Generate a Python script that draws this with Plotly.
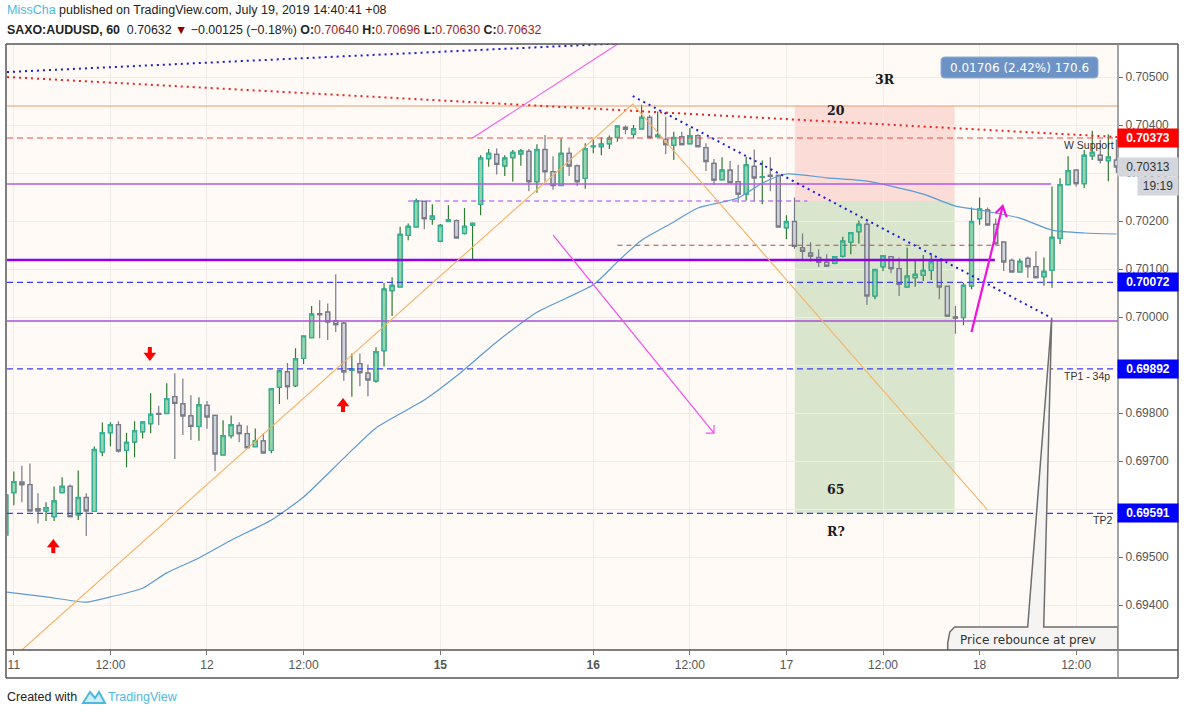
import numpy as np
import plotly.graph_objects as go

# hourly bars, prices in 1e-5 units
opens = [69546,69634,69656,69651,69601,69596,69584,69634,69647,69588,69624,69595,69719,69759,69776,69722,69740,69761,69778,69799,
         69799,69834,69819,69794,69772,69816,69795,69713,69753,69774,69757,69730,69742,69722,69854,69886,69857,69914,69957,70007,
         70010,69992,69987,69889,69903,69883,69867,69930,70055,70063,70170,70188,70241,70204,70158,70199,70201,70174,70191,70235,
         70330,70339,70315,70332,70340,70345,70282,70349,70303,70274,70341,70315,70289,70355,70355,70361,70374,70395,70381,70392,
         70416,70376,70370,70358,70376,70361,70378,70353,70320,70286,70306,70282,70256,70314,70291,70295,70295,70186,70199,70144,
         70133,70124,70114,70112,70127,70156,70178,70193,70044,70105,70126,70101,70063,70082,70087,70097,70117,70064,70000,69999,
         70065,70205,70223,70193,70156,70118,70094,70122,70105,70084,70097,70164,70276,70306,70278,70336,70337,70326,70327]
closes = [69629,69657,69651,69596,69596,69603,69617,69647,69584,69624,69596,69724,69759,69776,69721,69739,69763,69781,69797,69797,
          69830,69820,69794,69772,69817,69792,69715,69753,69776,69757,69728,69742,69717,69851,69888,69855,69913,69960,70006,70005,
          69990,69984,69886,69892,69884,69869,69928,70058,70066,70172,70189,70242,70205,70210,70191,70203,70165,70189,70195,70331,
          70341,70318,70331,70343,70346,70282,70349,70303,70274,70341,70315,70282,70351,70356,70360,70372,70398,70391,70392,70416,
          70374,70379,70359,70374,70359,70378,70355,70324,70285,70306,70280,70256,70317,70290,70292,70293,70188,70199,70147,70137,
          70127,70114,70106,70126,70158,70176,70193,70044,70099,70128,70101,70068,70085,70089,70097,70115,70063,70002,69998,70066,
          70199,70225,70192,70153,70115,70094,70116,70105,70082,70095,70166,70276,70305,70278,70337,70343,70327,70333,70313]
highs = [69629,69678,69690,69695,69633,69614,69647,69666,69651,69680,69633,69730,69780,69781,69783,69759,69783,69783,69841,69815,
         69862,69883,69872,69837,69833,69825,69795,69785,69795,69781,69774,69768,69758,69851,69890,69904,69935,69960,70023,70035,
         70028,70089,69990,69924,69924,69901,69937,70071,70083,70188,70195,70247,70242,70235,70194,70233,70203,70227,70197,70337,
         70350,70351,70337,70348,70350,70350,70360,70379,70335,70372,70353,70318,70362,70370,70374,70378,70399,70399,70400,70442,
         70421,70428,70417,70386,70386,70394,70381,70362,70329,70333,70325,70317,70334,70349,70326,70333,70295,70212,70249,70174,
         70156,70141,70131,70127,70167,70176,70201,70199,70099,70128,70127,70124,70145,70117,70129,70131,70119,70065,70023,70071,
         70228,70249,70228,70205,70157,70122,70122,70126,70137,70124,70272,70289,70335,70308,70348,70388,70369,70381,70370]
lows = [69546,69608,69614,69596,69570,69575,69575,69634,69584,69577,69544,69595,69710,69731,69717,69687,69708,69747,69758,69775,
        69799,69704,69754,69744,69742,69767,69679,69713,69747,69739,69728,69730,69717,69716,69819,69828,69854,69902,69957,69956,
        69952,69969,69867,69834,69856,69835,69863,69897,70002,70063,70160,70188,70183,70192,70156,70199,70164,70172,70119,70212,
        70313,70297,70294,70282,70315,70262,70259,70282,70265,70274,70294,70273,70267,70341,70337,70350,70365,70381,70372,70392,
        70372,70376,70339,70327,70358,70360,70355,70304,70275,70286,70280,70238,70243,70242,70235,70262,70188,70162,70142,70119,
        70115,70104,70106,70110,70124,70131,70153,70025,70037,70096,70091,70044,70063,70063,70075,70077,70037,70001,69965,69983,
        70058,70192,70192,70150,70096,70094,70094,70082,70082,70065,70061,70152,70276,70272,70269,70327,70320,70283,70300]

ma_bars = [0,5,10,13,17,20,24,28,33,37,42,46,52,56,61,66,73,76,79,83,86,91,94,97,102,107,114,118,121,126,130,134,138]
ma_vals = [69427,69417,69406,69417,69435,69467,69498,69535,69577,69625,69706,69769,69827,69877,69948,70010,70067,70115,
           70160,70198,70227,70248,70279,70298,70290,70283,70256,70231,70223,70206,70181,70175,70173]

tick_bars = [1,13,25,37,54,73,85,97,109,121,133]
tick_text = ["11","12:00","12","12:00","<b>15</b>","<b>16</b>","12:00","17","12:00","18","12:00"]
price_ticks = [0.694,0.695,0.696,0.697,0.698,0.699,0.700,0.701,0.702,0.703,0.704,0.705]

# horizontal levels: price, first bar, last bar, colour, width, dash
levels = [
    (0.704396, 0.15, 138.2, "#e0a070", 1.2, "solid"),
    (0.70373, 0.15, 138.2, "#f04848", 1.2, "6px,4px"),
    (0.70277, 0.15, 129.9, "#b45be8", 1.5, "solid"),
    (0.702417, 50, 99.6, "#a63df5", 1.2, "5px,4px"),
    (0.701494, 76, 123.5, "#a85050", 1.1, "5px,4px"),
    (0.701188, 0.15, 122.9, "#9000e6", 2.6, "solid"),
    (0.70072, 0.15, 138.2, "#3c3cff", 1.3, "6px,4px"),
    (0.699917, 0.15, 138.2, "#a94fd8", 1.3, "solid"),
    (0.69892, 0.15, 138.2, "#3c3cff", 1.3, "6px,4px"),
    (0.69591, 0.15, 138.2, "#3c3cff", 1.3, "6px,4px"),
]
# drawn trend lines: bars, prices, colour, width, dash
trends = [
    ([0.15, 76.05], [0.705104, 0.705698], "#1a1ae6", 2, "2px,4px"),
    ([0.15, 138.2], [0.705, 0.70375], "#ee2222", 2, "2px,4px"),
    ([2.0, 77.9, 122.0], [0.693063, 0.704438, 0.695979], "#f5b264", 1.1, "solid"),
    ([77.9, 129.96], [0.704604, 0.699979], "#1a1ae6", 2, "2px,4px"),
    ([58.0, 76.05], [0.703729, 0.705688], "#f064ee", 1.2, "solid"),
    # the two magenta arrows with their open heads
    ([68.0, 88.0], [0.701708, 0.697583], "#f050ee", 1.2, "solid"),
    ([86.98, 88.0, 88.0], [0.697583, 0.697583, 0.69775], "#f050ee", 1.2, "solid"),
    ([120.0, 123.87], [0.699688, 0.702313], "#f010e0", 2.2, "solid"),
    ([123.0, 123.87, 124.37], [0.702167, 0.702313, 0.702083], "#f010e0", 2.2, "solid"),
]
# red arrows: bar, price at the tip, direction
red_arrows = [(5.9, 0.695333, 1), (41.9, 0.698271, 1), (17.9, 0.699125, -1)]
PRICE_PER_PX = 1 / 48000

callout_x = [117.04, 117.04, 117.3, 117.9, 126.98, 129.96, 128.97, 138.2, 138.2]
callout_y = [0.693063, 0.693208, 0.693438, 0.693542, 0.693542, 0.699979, 0.693542, 0.693542, 0.693063]

price_tags = [
    (0.70373, "<b>0.70373</b>", "#ff0000", "white"),
    (0.70313, "0.70313", "#d3d6dc", "#333333"),
    (0.70072, "<b>0.70072</b>", "#0000ff", "white"),
    (0.69892, "<b>0.69892</b>", "#0000ff", "white"),
    (0.69591, "<b>0.69591</b>", "#0000ff", "white"),
]

o = np.array(opens) / 1e5
c = np.array(closes) / 1e5
h = np.array(highs) / 1e5
l = np.array(lows) / 1e5
bars = np.arange(len(o))

L, R, T, B = 7, 1118, 44, 650
FONT = "Liberation Sans"


def px(v):
    return (v - L) / (R - L)


def py(v):
    return (B - v) / (B - T)


def page_note(x, y, text, **kw):
    # annotation placed on page pixels, centred unless told otherwise
    kw.setdefault("xanchor", "center")
    return dict(x=px(x), y=py(y), xref="paper", yref="paper", yanchor="middle", text=text, showarrow=False, **kw)


fig = go.Figure()

# wicks first, then bodies over them, the wicks have another colour than the border
fig.add_trace(go.Candlestick(x=bars, open=o, high=h, low=l, close=c, whiskerwidth=0,
                             increasing=dict(line=dict(color="#2f7d32", width=1.2), fillcolor="#2f7d32"),
                             decreasing=dict(line=dict(color="#787b86", width=1.2), fillcolor="#787b86")))
fig.add_trace(go.Candlestick(x=bars, open=o, high=np.maximum(o, c), low=np.minimum(o, c), close=c, whiskerwidth=0,
                             increasing=dict(line=dict(color="#35b09a", width=1.3), fillcolor="#98d4a8"),
                             decreasing=dict(line=dict(color="#787b86", width=1.3), fillcolor="#d1d4dc")))

fig.add_trace(go.Scatter(x=ma_bars, y=np.array(ma_vals) / 1e5, mode="lines",
                         line=dict(color="#5b9bd5", width=1.2, shape="spline", smoothing=0.6)))

for price, x0, x1, color, width, dash in levels:
    fig.add_trace(go.Scatter(x=[x0, x1], y=[price, price], mode="lines",
                             line=dict(color=color, width=width, dash=dash)))
for xs, ys, color, width, dash in trends:
    fig.add_trace(go.Scatter(x=xs, y=ys, mode="lines", line=dict(color=color, width=width, dash=dash)))

for bar, tip, way in red_arrows:
    fig.add_trace(go.Scatter(x=[bar, bar], y=[tip - way * 5 * PRICE_PER_PX, tip - way * 12 * PRICE_PER_PX], mode="lines",
                             line=dict(color="#ff0000", width=4)))
    fig.add_trace(go.Scatter(x=[bar], y=[tip - way * 3.5 * PRICE_PER_PX], mode="markers",
                             marker=dict(symbol="triangle-up" if way > 0 else "triangle-down", size=11, color="#ff0000")))

fig.add_trace(go.Scatter(x=callout_x, y=callout_y, mode="lines", fill="toself", fillcolor="#f6f4f2",
                         line=dict(color="#6e6e6e", width=1.5)))

fig.update_layout(
    width=1185, height=715,
    margin=dict(l=L, r=1185 - R, t=T, b=715 - B),
    paper_bgcolor="white", plot_bgcolor="#fffaf5",
    showlegend=False, hovermode=False,
    font=dict(family=FONT, size=12, color="#4a4a4a"),
    xaxis=dict(range=[0.15, 138.2], rangeslider=dict(visible=False), tickmode="array", tickvals=tick_bars,
               ticktext=tick_text, gridcolor="#f1ece7", ticks="outside", ticklen=4, tickcolor="#777777",
               showline=False, zeroline=False, tickfont=dict(size=12, color="#555555")),
    yaxis=dict(range=[0.693063, 0.705688], side="right", tickmode="array", tickvals=price_ticks,
               ticktext=["%.5f" % v for v in price_ticks], gridcolor="#f1ece7", ticks="outside", ticklen=4,
               tickcolor="#777777", showline=False, zeroline=False, tickfont=dict(size=12, color="#555555")),
)


def page_line(x0, y0, x1, y1, color="#555555"):
    return dict(type="line", xref="paper", yref="paper", x0=px(x0), x1=px(x1), y0=py(y0), y1=py(y1),
                line=dict(color=color, width=1.5))


def round_box(x0, y0, x1, y1, r):
    p = "M %f,%f L %f,%f Q %f,%f %f,%f L %f,%f Q %f,%f %f,%f L %f,%f Q %f,%f %f,%f L %f,%f Q %f,%f %f,%f Z" % (
        px(x0 + r), py(y0), px(x1 - r), py(y0), px(x1), py(y0), px(x1), py(y0 + r),
        px(x1), py(y1 - r), px(x1), py(y1), px(x1 - r), py(y1),
        px(x0 + r), py(y1), px(x0), py(y1), px(x0), py(y1 - r),
        px(x0), py(y0 + r), px(x0), py(y0), px(x0 + r), py(y0))
    return p


shapes = [
    dict(type="rect", layer="below", x0=98.04, x1=117.9, y0=0.702417, y1=0.704396, fillcolor="#fbdcd6", line_width=0),
    dict(type="rect", layer="below", x0=98.04, x1=117.9, y0=0.69591, y1=0.702417, fillcolor="#d9e5cc", line_width=0),
    # frame
    page_line(6, 44, 1178, 44),
    page_line(6, 650, 1178, 650),
    page_line(6, 678, 1178, 678),
    page_line(6, 44, 6, 678),
    page_line(1178, 44, 1178, 678),
    page_line(1118, 44, 1118, 678, "#888888"),
    # measure box
    dict(type="path", xref="paper", yref="paper", path=round_box(941, 57, 1098, 78, 4), fillcolor="#6d93c6",
         line=dict(color="#8fb0d8", width=1)),
    # tradingview logo
    dict(type="path", xref="paper", yref="paper", line=dict(color="#4db8e0", width=2), fillcolor="rgba(77,184,224,0.25)",
         path="M %f,%f L %f,%f L %f,%f L %f,%f L %f,%f Z" % (px(83), py(703), px(90), py(692), px(95), py(698), px(99), py(692), px(105), py(703))),
]
fig.update_layout(shapes=shapes)

notes = []
for bar, price, text in [(109.2, 0.704958, "3R"), (103.1, 0.704312, "20"), (103.1, 0.696417, "65"), (103.1, 0.695542, "R?")]:
    notes.append(dict(x=bar, y=price, text="<b>%s</b>" % text, showarrow=False, font=dict(family="DejaVu Serif", size=12.5, color="#1a1a1a")))

for bar, price, text in [(134.6, 0.703583, "W Support"), (134.3, 0.698771, "TP1 - 34p"), (136.3, 0.695771, "TP2")]:
    notes.append(dict(x=bar, y=price, text=text, showarrow=False, font=dict(family=FONT, size=10.5, color="#333333")))

notes.append(page_note(1028, 640, "Price rebounce at prev", font=dict(family="DejaVu Sans", size=12, color="#333333")))
notes.append(page_note(1019.5, 67.5, "0.01706 (2.42%) 170.6", font=dict(family="DejaVu Sans", size=12, color="white")))

for price, text, bg, fg in price_tags:
    notes.append(dict(x=px(1148), y=price, xref="paper", yref="y", xanchor="center", yanchor="middle", text=text, showarrow=False,
                      bgcolor=bg, width=58, height=16, font=dict(family=FONT, size=12, color=fg)))
notes.append(page_note(1158, 186, "19:19", bgcolor="#d3d6dc", width=38, height=16, font=dict(family=FONT, size=12, color="#333333")))

RED = "#a61c1c"
notes.append(page_note(4.5, 10, '<span style="color:#4db8e0">MissCha</span> published on TradingView.com, July 19, 2019 14:40:41 +08',
                       xanchor="left", align="left", font=dict(family=FONT, size=12.5, color="#222222")))
notes.append(page_note(4.5, 30, '<b>SAXO:AUDUSD, 60</b>  0.70632 <span style="color:#8b0000">▼</span> −0.00125 (−0.18%%) '
                                '<b>O:</b><span style="color:%s">0.70640</span> <b>H:</b><span style="color:%s">0.70696</span> '
                                '<b>L:</b><span style="color:%s">0.70630</span> <b>C:</b><span style="color:%s">0.70632</span>' % (RED, RED, RED, RED),
                       xanchor="left", align="left", font=dict(family=FONT, size=12.4, color="#222222")))
notes.append(page_note(4.5, 697, "Created with", xanchor="left", font=dict(family=FONT, size=12.5, color="#222222")))
notes.append(page_note(105.5, 697, "TradingView", xanchor="left", font=dict(family=FONT, size=12.5, color="#4db8e0")))
fig.update_layout(annotations=notes)

fig.write_html("out.html", config={"displayModeBar": False}, post_script="document.body.style.margin='0'")
